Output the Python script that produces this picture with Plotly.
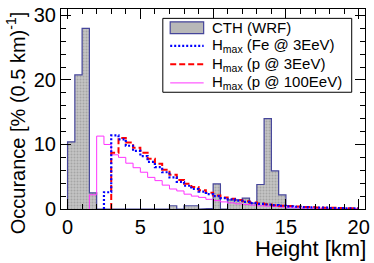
import plotly.graph_objects as go

# ---- data (bins of 0.5 km from 0 to 20 km) ----
bin_edges = [i * 0.5 for i in range(41)]

cth_wrf = [10.4, 20.8, 28.0, 2.5, 0, 0, 0, 0, 0, 0,
           0, 0, 0, 0, 0.5, 0, 0.5, 0.5, 0, 0.1,
           3.9, 0, 1.4, 1.4, 1.7, 0.9, 3.8, 14.0, 5.9, 2.2,
           0, 0, 0, 0, 0, 0, 0, 0, 0, 0]

hmax_fe_3 = [0, 0, 0, 0, 0, 2.6, 11.4, 10.8, 9.8, 9.0,
             8.2, 7.3, 6.5, 5.7, 4.9, 4.2, 3.6, 3.1, 2.7, 2.3,
             2.0, 1.7, 1.5, 1.3, 1.1, 0.9, 0.8, 0.7, 0.6, 0.5,
             0.4, 0.35, 0.3, 0.25, 0.2, 0.2, 0.15, 0.15, 0.1, 0.1]

hmax_p_3 = [0, 0, 0, 0, 0, 0, 8.7, 11.0, 10.3, 9.5,
            8.7, 7.8, 7.0, 6.1, 5.3, 4.5, 3.9, 3.4, 2.9, 2.5,
            2.1, 1.8, 1.6, 1.4, 1.2, 1.0, 0.85, 0.75, 0.6, 0.5,
            0.45, 0.4, 0.3, 0.3, 0.25, 0.2, 0.2, 0.15, 0.1, 0.1]

hmax_p_100 = [0, 0, 0, 2.2, 11.3, 10.0, 8.4, 8.0, 7.1, 6.4,
              5.7, 4.9, 4.4, 3.7, 3.1, 2.8, 2.3, 2.0, 1.8, 1.5,
              1.3, 1.1, 0.95, 0.8, 0.7, 0.6, 0.5, 0.45, 0.4, 0.3,
              0.25, 0.2, 0.15, 0.15, 0.1, 0.1, 0.1, 0.05, 0.05, 0.05]

legend_labels = ["CTH (WRF)", "H<sub>max</sub> (Fe @ 3EeV)",
                 "H<sub>max</sub> (p @ 3EeV)", "H<sub>max</sub> (p @ 100EeV)"]

x_ticks = [0, 5, 10, 15, 20]
y_ticks = [0, 10, 20, 30]

FONT = "Liberation Sans, Arial, sans-serif"
NAVY = "#45459a"
BLUE_DASH = "2px,2px"
RED_DASH = "6px,3px"

centers = [(bin_edges[i] + bin_edges[i + 1]) / 2 for i in range(len(bin_edges) - 1)]


def step_xy(values):
    first = next(i for i, v in enumerate(values) if v > 0)
    xs = [bin_edges[first]] + bin_edges[first:]
    ys = [0] + list(values[first:]) + [values[-1]]
    return xs, ys


fig = go.Figure()

fig.add_trace(go.Bar(
    x=centers, y=cth_wrf, width=0.5,
    marker=dict(color="#b8b8b8", line=dict(width=0),
                pattern=dict(shape=".", fgcolor="#858585", bgcolor="#c4c4c4",
                             size=3, solidity=0.35)),
    showlegend=False, hoverinfo="skip"))

# outline of the CTH histogram
cx = []
cy = []
for i, v in enumerate(cth_wrf):
    cx += [bin_edges[i], bin_edges[i + 1]]
    cy += [v, v]
cx = [bin_edges[0]] + cx + [bin_edges[-1]]
cy = [0] + cy + [0]
fig.add_trace(go.Scatter(x=cx, y=cy, mode="lines",
                         line=dict(color=NAVY, width=1.2),
                         showlegend=False, hoverinfo="skip"))

series = [
    (hmax_p_100, dict(color="#ff33ff", width=1.0, dash="solid")),
    (hmax_p_3, dict(color="#ff0000", width=2.0, dash=RED_DASH)),
    (hmax_fe_3, dict(color="#0000ff", width=2.2, dash=BLUE_DASH)),
]
for vals, ln in series:
    xs, ys = step_xy(vals)
    fig.add_trace(go.Scatter(x=xs, y=ys, mode="lines", line_shape="hv",
                             line=ln, showlegend=False, hoverinfo="skip"))

# ---- manual ROOT-like legend (paper coords) ----
W, H = 374, 263
ML, MR, MT, MB = 61, 4, 6, 54
PW, PH = W - ML - MR, H - MT - MB


def px(xp):
    return (xp - ML) / PW


def py(yp):
    return (H - MB - yp) / PH


shapes = []
shapes.append(dict(type="rect", xref="paper", yref="paper",
                   x0=px(164.5), x1=px(356.5), y0=py(90.5), y1=py(15.5),
                   line=dict(color="black", width=1), fillcolor="white", layer="above"))
rows = [25, 43.5, 62, 81]
shapes.append(dict(type="rect", xref="paper", yref="paper",
                   x0=px(172), x1=px(206), y0=py(rows[0] + 6), y1=py(rows[0] - 6),
                   line=dict(color=NAVY, width=1.2), fillcolor="#b8b8b8", layer="above"))
line_styles = [("#0000ff", BLUE_DASH, 2.2), ("#ff0000", RED_DASH, 2.0), ("#ff33ff", "solid", 1.0)]
for r, (c, d, w) in zip(rows[1:], line_styles):
    shapes.append(dict(type="line", xref="paper", yref="paper",
                       x0=px(172), x1=px(206), y0=py(r), y1=py(r),
                       line=dict(color=c, width=w, dash=d), layer="above"))

annotations = []
for r, lab in zip(rows, legend_labels):
    annotations.append(dict(text=lab, xref="paper", yref="paper", x=px(212), y=py(r),
                            xanchor="left", yanchor="middle", showarrow=False,
                            font=dict(family=FONT, size=15, color="black")))

annotations.append(dict(text="Height [km]", xref="paper", yref="paper",
                        x=px(373), y=py(234), xanchor="right", yanchor="top",
                        showarrow=False, font=dict(family=FONT, size=22, color="black")))
annotations.append(dict(text="Occurance [% (0.5 km)<sup>-1</sup>]", xref="paper", yref="paper",
                        x=px(15), y=py(6), xanchor="center", yanchor="top", textangle=-90,
                        showarrow=False, font=dict(family=FONT, size=20, color="black")))

axis_common = dict(showline=True, linecolor="black", linewidth=1, mirror="allticks",
                   ticks="inside", ticklen=10, tickcolor="black", tickwidth=1,
                   showgrid=False, zeroline=False,
                   tickfont=dict(family=FONT, size=20, color="black"))

fig.update_layout(
    width=W, height=H,
    margin=dict(l=ML, r=MR, t=MT, b=MB),
    paper_bgcolor="white", plot_bgcolor="white",
    bargap=0, showlegend=False,
    shapes=shapes, annotations=annotations,
    xaxis=dict(range=[-0.45, 20.43], tickvals=x_ticks,
               minor=dict(dtick=1, ticklen=5, ticks="inside", tickcolor="black"),
               **axis_common),
    yaxis=dict(range=[0, 31], tickvals=y_ticks,
               minor=dict(dtick=2, ticklen=5, ticks="inside", tickcolor="black"),
               **axis_common),
)

fig.write_html("out.html",
               config={"displayModeBar": False, "staticPlot": True},
               post_script="document.body.style.margin='0';document.body.style.padding='0';"
                           "document.documentElement.style.overflow='hidden';")
